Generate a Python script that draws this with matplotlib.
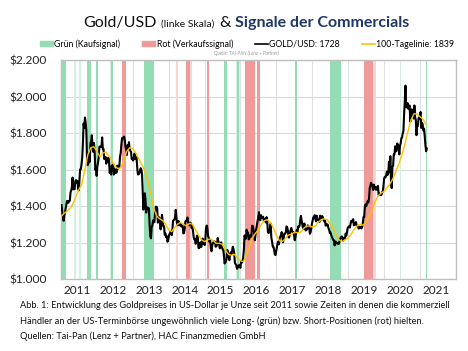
import numpy as np
import pandas as pd
import matplotlib
matplotlib.use('Agg')
import matplotlib.pyplot as plt
from matplotlib.patches import Patch
from matplotlib.lines import Line2D
from matplotlib.ticker import FuncFormatter

plt.rcParams['font.family'] = ['Lato', 'DejaVu Sans']

# Gold/USD, Wochenschluss (Freitag) ab 07.01.2011
g2011 = [1405, 1365, 1342, 1319, 1349, 1362, 1388, 1409, 1428, 1421, 1418, 1428,
         1429, 1474, 1486, 1504, 1556, 1491, 1493, 1493, 1536, 1542, 1529, 1538, 1500,
         1486, 1543, 1601, 1601, 1628, 1663, 1740, 1852, 1828, 1885, 1857, 1812, 1657, 1624,
         1636, 1683, 1643, 1745, 1755, 1788, 1725, 1697, 1746, 1713, 1598, 1606, 1565]
g2012 = [1617, 1639, 1665, 1726, 1725, 1725, 1724, 1776, 1711, 1713, 1658, 1662, 1669,
         1632, 1660, 1642, 1664, 1645, 1580, 1592, 1572, 1622, 1592, 1628, 1572, 1604,
         1580, 1591, 1583, 1621, 1604, 1620, 1616, 1671, 1691, 1740, 1772, 1774, 1771,
         1780, 1758, 1723, 1711, 1680, 1733, 1714, 1750, 1712, 1702, 1697, 1657, 1660]
g2013 = [1649, 1662, 1687, 1657, 1667, 1667, 1609, 1573, 1573, 1578, 1592, 1607, 1598,
         1575, 1476, 1380, 1462, 1470, 1436, 1364, 1387, 1393, 1383, 1388, 1297, 1234,
         1223, 1283, 1295, 1322, 1311, 1312, 1372, 1396, 1396, 1387, 1309, 1333, 1338,
         1310, 1272, 1315, 1352, 1315, 1287, 1288, 1243, 1250, 1229, 1234, 1204, 1213]
g2014 = [1238, 1247, 1254, 1264, 1240, 1262, 1318, 1323, 1326, 1339, 1379, 1334, 1294,
         1303, 1318, 1294, 1300, 1301, 1288, 1293, 1292, 1250, 1252, 1274, 1316, 1320,
         1320, 1337, 1310, 1303, 1294, 1309, 1304, 1280, 1287, 1267, 1230, 1216, 1218,
         1193, 1222, 1238, 1231, 1171, 1169, 1190, 1201, 1175, 1191, 1222, 1195, 1195]
g2015 = [1186, 1216, 1277, 1293, 1279, 1235, 1227, 1204, 1213, 1168, 1152, 1182, 1199,
         1201, 1206, 1204, 1177, 1179, 1189, 1225, 1205, 1190, 1168, 1180, 1201, 1173,
         1164, 1162, 1132, 1085, 1095, 1094, 1113, 1159, 1134, 1121, 1103, 1138, 1146,
         1137, 1156, 1177, 1163, 1141, 1088, 1081, 1075, 1056, 1062, 1075, 1065, 1075]
g2016 = [1061, 1097, 1089, 1097, 1116, 1158, 1239, 1227, 1221, 1270, 1249, 1255, 1217,
         1221, 1240, 1234, 1232, 1292, 1290, 1272, 1252, 1212, 1244, 1275, 1296, 1318,
         1340, 1366, 1327, 1322, 1350, 1335, 1335, 1341, 1321, 1321, 1328, 1310, 1339, 1316,
         1257, 1252, 1266, 1275, 1303, 1225, 1207, 1178, 1177, 1160, 1136, 1131, 1150]
g2017 = [1173, 1196, 1205, 1190, 1220, 1234, 1238, 1257, 1234, 1201, 1229, 1249, 1249,
         1254, 1288, 1283, 1268, 1228, 1228, 1253, 1266, 1280, 1266, 1254, 1256, 1241,
         1212, 1228, 1254, 1269, 1258, 1289, 1285, 1291, 1325, 1346, 1320, 1297, 1280,
         1275, 1304, 1280, 1266, 1269, 1274, 1294, 1288, 1280, 1248, 1256, 1275, 1303]
g2018 = [1320, 1338, 1333, 1350, 1333, 1316, 1347, 1330, 1323, 1324, 1313, 1347, 1325,
         1332, 1345, 1336, 1323, 1315, 1320, 1292, 1302, 1294, 1298, 1279, 1270, 1253,
         1255, 1241, 1231, 1223, 1214, 1212, 1184, 1206, 1201, 1196, 1194, 1199, 1192,
         1203, 1220, 1227, 1233, 1232, 1209, 1222, 1223, 1222, 1249, 1238, 1257, 1281]
g2019 = [1285, 1289, 1282, 1298, 1318, 1314, 1322, 1328, 1294, 1298, 1302, 1312, 1292,
         1291, 1290, 1276, 1286, 1280, 1286, 1277, 1284, 1305, 1340, 1341, 1400, 1409,
         1399, 1415, 1426, 1419, 1441, 1497, 1513, 1527, 1520, 1507, 1488, 1517, 1497,
         1505, 1489, 1490, 1505, 1510, 1460, 1468, 1462, 1464, 1460, 1476, 1478, 1510]
g2020 = [1552, 1560, 1557, 1571, 1589, 1570, 1584, 1643, 1585, 1673, 1530, 1498, 1617,
         1620, 1684, 1683, 1727, 1700, 1702, 1743, 1734, 1730, 1683, 1729, 1743, 1771,
         1775, 1798, 1810, 1902, 1975, 2060, 1944, 1940, 1964, 1933, 1940, 1951, 1862,
         1900, 1930, 1899, 1902, 1879, 1951, 1887, 1872, 1788, 1839, 1839, 1881, 1877]
g2021 = [1898, 1915, 1828, 1856, 1848, 1814, 1824, 1784, 1734, 1700, 1715]

gold = g2011 + g2012 + g2013 + g2014 + g2015 + g2016 + g2017 + g2018 + g2019 + g2020 + g2021
gold_dates = pd.date_range('2011-01-07', periods=len(gold), freq='W-FRI')

# 100-Tagelinie, jeweils Monatsanfang
ma100 = [1340, 1360, 1370, 1385, 1410, 1450, 1490, 1520, 1600, 1680, 1720, 1725,
         1700, 1670, 1690, 1695, 1675, 1650, 1620, 1605, 1610, 1650, 1700, 1720,
         1715, 1690, 1660, 1630, 1595, 1545, 1470, 1390, 1345, 1330, 1320, 1300,
         1270, 1260, 1280, 1300, 1310, 1300, 1290, 1305, 1300, 1270, 1240, 1215,
         1205, 1215, 1220, 1210, 1195, 1195, 1190, 1160, 1135, 1130, 1135, 1115,
         1100, 1095, 1130, 1180, 1225, 1250, 1270, 1300, 1320, 1325, 1310, 1280,
         1240, 1210, 1205, 1220, 1240, 1245, 1255, 1255, 1255, 1275, 1290, 1290,
         1285, 1290, 1310, 1325, 1330, 1325, 1305, 1275, 1245, 1215, 1205, 1215,
         1225, 1245, 1270, 1290, 1300, 1295, 1310, 1340, 1375, 1420, 1455, 1470,
         1480, 1500, 1520, 1550, 1590, 1630, 1680, 1740, 1810, 1870, 1905, 1905,
         1890, 1875, 1850]
ma_dates = pd.date_range('2011-01-01', periods=len(ma100), freq='MS')

# Signale der Commercials: g = Kauf, r = Verkauf, l.. = schwach
sig_start = ['2011-01-14', '2011-05-10', '2011-07-01', '2011-09-20', '2011-12-20',
             '2012-05-11', '2012-05-22', '2012-09-09', '2013-04-23', '2014-03-15',
             '2014-06-25', '2014-08-04', '2015-01-23', '2015-07-23', '2015-11-20',
             '2015-12-01', '2016-02-21', '2016-06-14', '2017-07-13', '2018-06-28',
             '2019-06-07', '2019-09-13', '2020-06-14', '2021-02-28']
sig_end = ['2011-02-20', '2011-06-03', '2011-07-19', '2011-11-02', '2012-01-11',
           '2012-05-22', '2012-06-10', '2012-10-23', '2013-08-08', '2014-04-02',
           '2014-08-04', '2014-08-22', '2015-02-14', '2015-08-14', '2015-12-27',
           '2015-12-16', '2016-05-30', '2016-07-23', '2017-07-27', '2018-10-16',
           '2019-09-13', '2019-10-09', '2020-06-25', '2021-03-15']
sig_kind = ['g', 'lg', 'lg', 'g', 'g',
            'lg', 'g', 'r', 'g', 'lr',
            'r', 'lr', 'r', 'g', 'lg',
            'g', 'r', 'r', 'g', 'g',
            'r', 'lr', 'lg', 'g']
sig_col = {'g': '#93dcb4', 'lg': '#d2f2e1', 'r': '#f09999', 'lr': '#f9d5d5'}

years = list(range(2011, 2022))

fig = plt.figure(figsize=(4.68, 3.51), dpi=100)
ax = fig.add_axes([0.1303, 0.2051, 0.8436, 0.6239])

for s, e, k in zip(sig_start, sig_end, sig_kind):
    ax.axvspan(pd.Timestamp(s), pd.Timestamp(e), color=sig_col[k], lw=0, zorder=1)

ax.plot(gold_dates, gold, color='black', lw=1.5, zorder=4)
ax.plot(ma_dates, ma100, color='#ffc000', lw=1.0, zorder=5)

ax.set_xlim(pd.Timestamp('2011-01-01'), pd.Timestamp('2022-01-01'))
ax.set_ylim(1000, 2200)
ax.set_yticks(range(1000, 2201, 200))
ax.yaxis.set_major_formatter(FuncFormatter(lambda v, p: '$' + f'{int(v):,}'.replace(',', '.')))
ax.set_xticks([pd.Timestamp(f'{y}-06-14') for y in years])
ax.set_xticklabels([str(y) for y in years])
ax.set_xticks([pd.Timestamp(f'{y}-01-01') for y in years[1:]], minor=True)
ax.tick_params(axis='both', which='both', length=0)
ax.tick_params(axis='y', labelsize=8.6, pad=10, colors='#222222')
ax.tick_params(axis='x', labelsize=8.5, pad=4, colors='#222222')
ax.yaxis.grid(True, color='#d9d9d9', lw=0.8, zorder=0)
ax.xaxis.grid(True, which='minor', color='#e0e0e0', lw=0.8, zorder=0)
ax.set_axisbelow(True)
for sp in ax.spines.values():
    sp.set_color('#bfbfbf')
    sp.set_linewidth(1.0)

# Titel aus Teilstuecken, nacheinander gesetzt
W, H = 468, 351
parts = [('Gold/USD', 11.5, 'normal', '#111111'),
         ('(linke Skala)', 7.5, 'normal', '#111111'),
         ('&', 11.5, 'normal', '#111111'),
         ('Signale der Commercials', 11.5, 'bold', '#1f3864')]
renderer = fig.canvas.get_renderer()
texts = []
for s, fs, fw, c in parts:
    texts.append(fig.text(0, 1 - 27 / H, s, fontsize=fs, fontweight=fw, color=c, va='baseline'))
widths = [t.get_window_extent(renderer).width for t in texts]
gap = 4.5
total = sum(widths) + gap * (len(widths) - 1)
x = 246 - total / 2
for t, w in zip(texts, widths):
    t.set_x(x / W)
    x += w + gap

handles = [Patch(color=sig_col['g']), Patch(color=sig_col['r']),
           Line2D([], [], color='black', lw=1.2), Line2D([], [], color='#ffc000', lw=1.2)]
labels = ['Grün (Kaufsignal)', 'Rot (Verkaufssignal)', 'GOLD/USD: 1728', '100-Tagelinie: 1839']
fig.legend(handles, labels, loc='center', bbox_to_anchor=(247 / W, 1 - 44 / H), ncol=4,
           frameon=False, fontsize=6.3, handlelength=1.5, handleheight=0.6,
           handletextpad=0.15, columnspacing=2.5, borderpad=0)
fig.text(246 / W, 1 - 53 / H, 'Quelle: TAI-PAN (Lenz + Partner)', fontsize=3.4,
         style='italic', color='#999999', ha='center', va='center')

# Bildunterschrift (erste Zeile endet im Original am Bildrand)
cap = ['Abb. 1: Entwicklung des Goldpreises in US-Dollar je Unze seit 2011 sowie Zeiten in denen die kommerziell',
       'Händler an der US-Terminbörse ungewöhnlich viele Long- (grün) bzw. Short-Positionen (rot) hielten.',
       'Quellen: Tai-Pan (Lenz + Partner), HAC Finanzmedien GmbH']
for i, c in enumerate(cap):
    fig.text(20 / W, 1 - (306 + 15 * i) / H, c, fontsize=6.7, va='center', ha='left', color='#111111')

fig.savefig('out.png', dpi=100)
